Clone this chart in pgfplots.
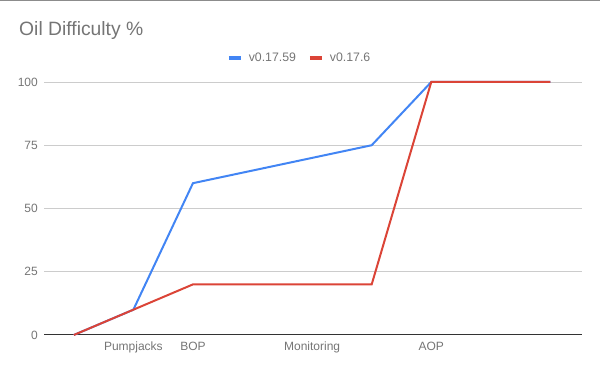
\documentclass[border=0pt]{standalone}
\usepackage{pgfplots}
\pgfplotsset{compat=1.18}
\usepackage{fontspec}
\setmainfont{Liberation Sans}
\definecolor{gblue}{HTML}{4285F4}
\definecolor{gred}{HTML}{DB4437}
\definecolor{txtgray}{HTML}{757575}
\definecolor{gridgray}{HTML}{CCCCCC}
\definecolor{basegray}{HTML}{333333}
\begin{document}
\begin{tikzpicture}[x=1pt,y=1pt]
\useasboundingbox (0,0) rectangle (600,371);
\draw[color=black!45, line width=1.5pt] (0,370.4) -- (600,370.4);
\node[anchor=base west, text=txtgray, font=\fontsize{19.3}{22}\selectfont, inner sep=0pt] at (19,335) {Oil Difficulty \%};
\begin{axis}[
  at={(44pt,36pt)}, anchor=south west,
  scale only axis, width=538pt, height=253pt,
  xmin=-0.5, xmax=8.53, ymin=0, ymax=100,
  clip=false,
  axis line style={draw=none},
  major tick length=0pt,
  xtick={1,2,4,6},
  xticklabels={Pumpjacks,BOP,Monitoring,AOP},
  ytick={25,50,75,100},
  extra y ticks={0},
  extra y tick style={grid style={basegray, line width=1pt}},
  ymajorgrids,
  grid style={gridgray, line width=0.8pt},
  /pgf/number format/assume math mode=true,
  ticklabel style={font=\fontsize{12}{14}\selectfont, text=txtgray, inner sep=0pt},
  yticklabel style={anchor=east, xshift=-6pt},
  xticklabel style={anchor=base, yshift=-16pt},
  legend columns=2,
  legend style={at={(0.475,1.095)}, anchor=center, draw=none, fill=none,
    font=\fontsize{12.3}{14}\selectfont, text=txtgray, inner sep=0pt,
    /tikz/every odd column/.style={column sep=4pt},
    /tikz/every even column/.style={column sep=10pt}},
  legend image code/.code={\draw[#1, line width=4pt, line cap=butt] (0pt,0pt) -- (12pt,0pt);},
]
\addplot[gblue, line width=2pt, no markers] coordinates {(0,0) (1,10) (2,60) (5,75) (6,100) (8,100)};
\addlegendentry{v0.17.59}
\addplot[gred, line width=2pt, no markers] coordinates {(0,0) (1,10) (2,20) (5,20) (6,100) (8,100)};
\addlegendentry{v0.17.6}
\end{axis}
\end{tikzpicture}
\end{document}
